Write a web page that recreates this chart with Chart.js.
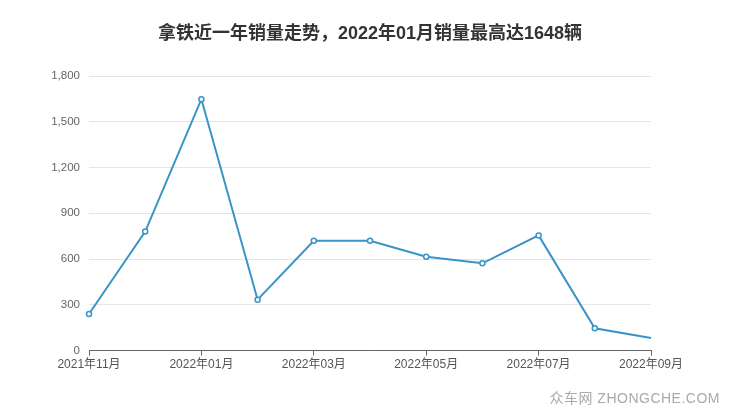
<!DOCTYPE html>
<html>
<head>
<meta charset="utf-8">
<script src="https://cdn.jsdelivr.net/npm/chart.js@4/dist/chart.umd.min.js"></script>
<style>
  html, body { margin: 0; padding: 0; background: #fff; }
  #wrap { position: relative; width: 740px; height: 417px; }
  #title {
    position: absolute; left: 0; top: 18px; width: 740px; text-align: center;
    font: bold 18px "Liberation Sans", "Noto Sans CJK SC", sans-serif;
    color: #333;
  }
  #mark {
    position: absolute; right: 20px; bottom: 10px;
    font: 14px "Liberation Sans", "Noto Sans CJK SC", sans-serif;
    color: #aaa; letter-spacing: 0.5px;
  }
</style>
</head>
<body>
<div id="wrap">
  <canvas id="myChart" width="740" height="417"></canvas>
  <div id="title">拿铁近一年销量走势，2022年01月销量最高达1648辆</div>
  <div id="mark">众车网 ZHONGCHE.COM</div>
</div>
<script>
// months shown on the x axis
let months = [
  "2021年11月", "2021年12月", "2022年01月", "2022年02月", "2022年03月", "2022年04月",
  "2022年05月", "2022年06月", "2022年07月", "2022年08月", "2022年09月"
];
// sales per month
let sales = [240, 780, 1648, 334, 720, 720, 615, 572, 755, 146, 83];
let yTicks = [0, 300, 600, 900, 1200, 1500, 1800];

const fontFamily = '"Liberation Sans", "Noto Sans CJK SC", sans-serif';

function createGraph() {
  const ctx = document.querySelector("#myChart").getContext("2d");
  const data = {
    labels: months,
    datasets: [
      {
        data: sales,
        borderColor: "#3a93c6",
        borderWidth: 2,
        backgroundColor: "#fff",
        pointBackgroundColor: "#fff",
        pointBorderColor: "#3a93c6",
        pointBorderWidth: 1.5,
        pointRadius: (c) => (c.dataIndex === sales.length - 1 ? 0 : 2.5),
        fill: false,
        tension: 0,
      },
    ],
  };

  const config = {
    type: "line",
    data: data,
    options: {
      responsive: false,
      animation: false,
      layout: { padding: { left: 0, right: 89, top: 76, bottom: 43 } },
      plugins: {
        legend: { display: false },
        tooltip: { enabled: false },
      },
      scales: {
        x: {
          offset: false,
          grid: {
            drawOnChartArea: false,
            drawTicks: true,
            tickLength: 5,
            color: (c) => (c.index % 2 === 0 ? "#666" : "rgba(0,0,0,0)"),
          },
          border: { color: "#666", width: 1 },
          ticks: {
            autoSkip: false,
            maxRotation: 0,
            color: "#555",
            font: { family: fontFamily, size: 12 },
            padding: 2,
            callback: function (value, index) {
              return index % 2 === 0 ? months[index] : "";
            },
          },
        },
        y: {
          min: 0,
          max: 1800,
          afterBuildTicks: (scale) => {
            scale.ticks = yTicks.map((v) => ({ value: v }));
          },
          afterFit: (scale) => {
            scale.width = 89;
          },
          grid: { color: "#e6e6e6", drawTicks: false },
          border: { display: false },
          ticks: {
            color: "#666",
            padding: 9,
            font: { family: fontFamily, size: 11.5 },
            callback: function (value) {
              return value.toLocaleString("en-US");
            },
          },
        },
      },
    },
  };
  const myChart = new Chart(ctx, config);
}

createGraph();
</script>
</body>
</html>
